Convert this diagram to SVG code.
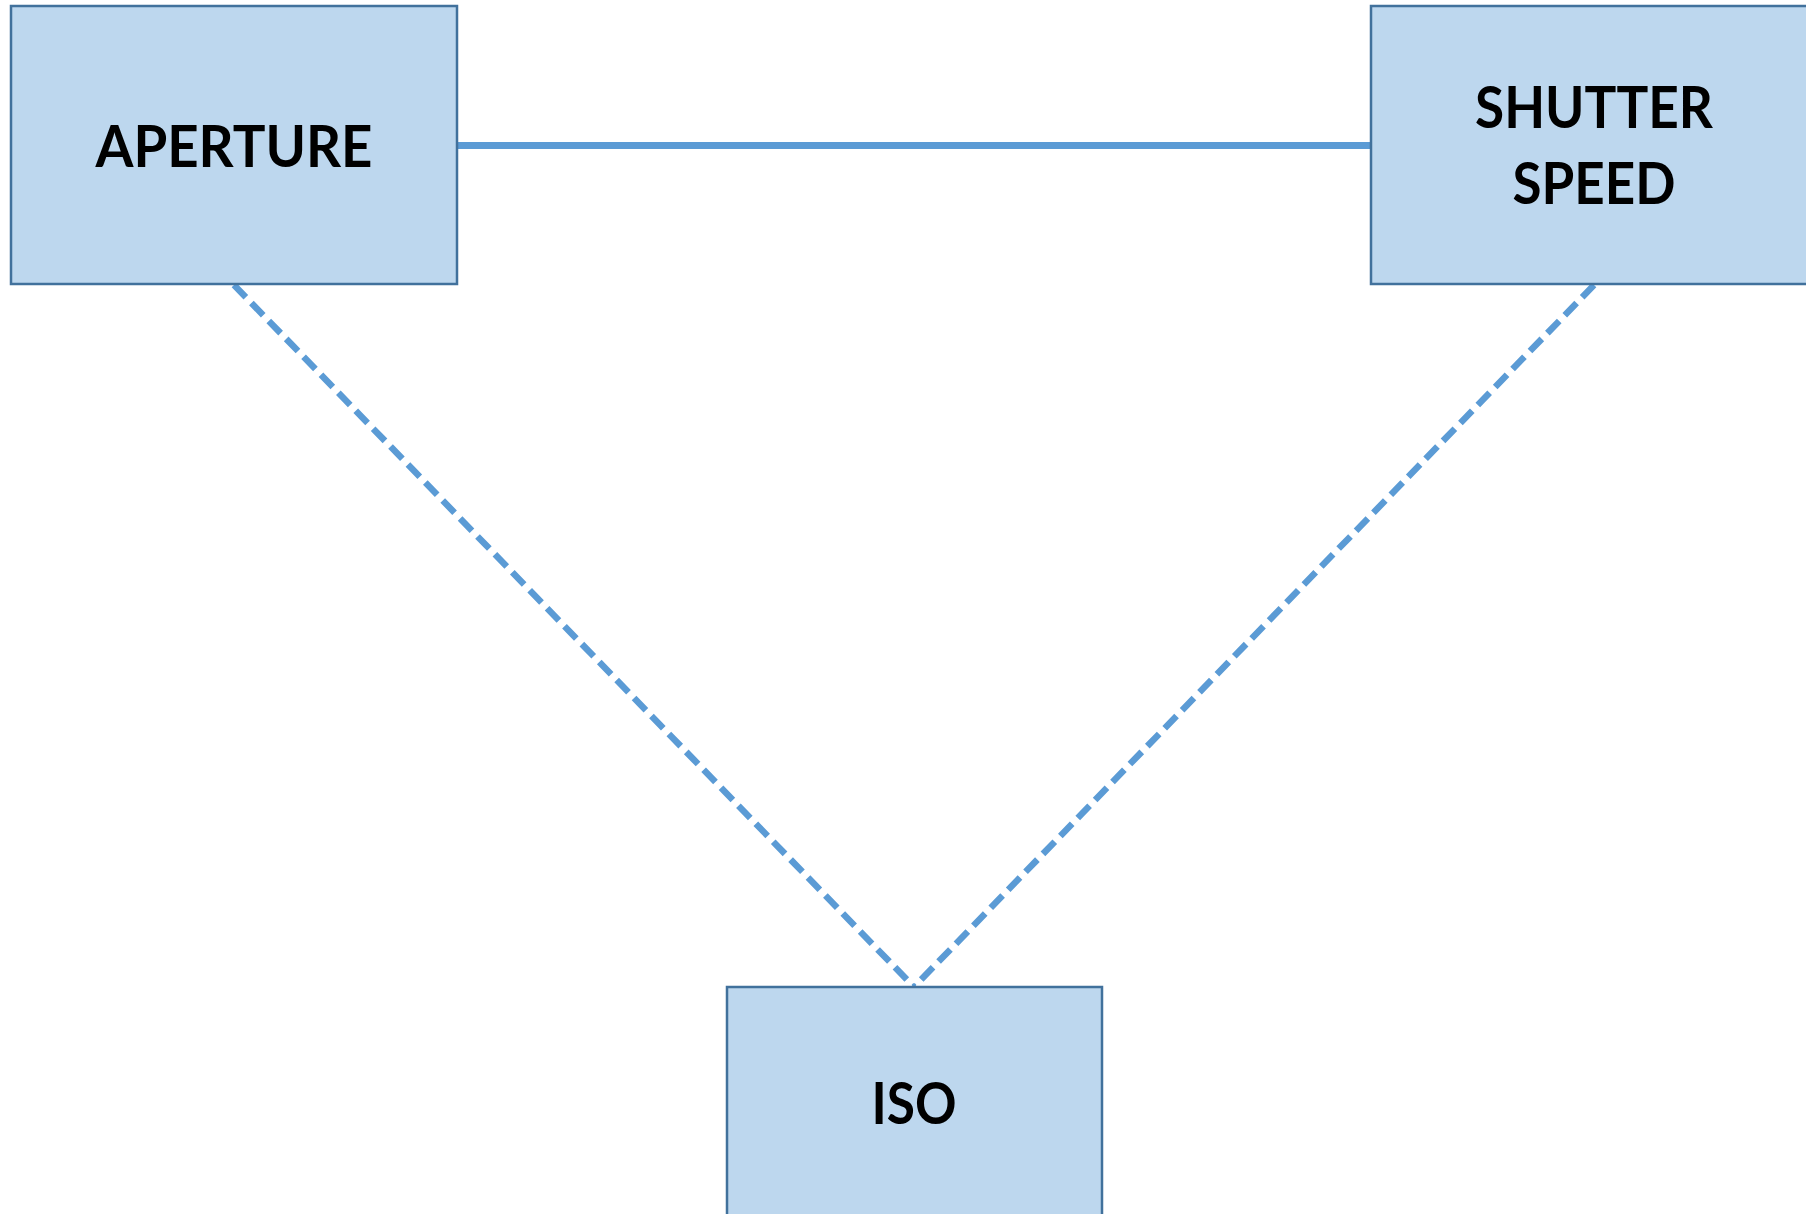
<svg xmlns="http://www.w3.org/2000/svg" width="1806" height="1214" viewBox="0 0 1806 1214">
<style>
.box{fill:#BDD7EE;stroke:#41719C;stroke-width:2.5}
.lbl{font-family:Lato,"Open Sans","Liberation Sans",sans-serif;font-weight:700;font-size:57px;fill:#000;text-anchor:middle}
.solid{stroke:#5B9BD5;stroke-width:7;fill:none}
.dash{stroke:#5B9BD5;stroke-width:6.5;fill:none;stroke-dasharray:17 8}
</style>
<rect width="1806" height="1214" fill="#fff"/>
<g id="connectors">
<line class="solid" x1="457" y1="145.5" x2="1371" y2="145.5"/>
<line class="dash" x1="234" y1="285" x2="914" y2="987"/>
<line class="dash" x1="1594" y1="285" x2="914" y2="987"/>
</g>
<g id="aperture">
<rect class="box" x="11" y="6" width="446" height="278"/>
<text class="lbl" x="234" y="166.5" textLength="277" lengthAdjust="spacingAndGlyphs">APERTURE</text>
</g>
<g id="shutter-speed">
<rect class="box" x="1371" y="6" width="446" height="278"/>
<text class="lbl" x="1594" y="128" textLength="238" lengthAdjust="spacingAndGlyphs">SHUTTER</text>
<text class="lbl" x="1594" y="204" textLength="163" lengthAdjust="spacingAndGlyphs">SPEED</text>
</g>
<g id="iso">
<rect class="box" x="727" y="987" width="375" height="240"/>
<text class="lbl" x="914" y="1124" textLength="85" lengthAdjust="spacingAndGlyphs">ISO</text>
</g>
</svg>
